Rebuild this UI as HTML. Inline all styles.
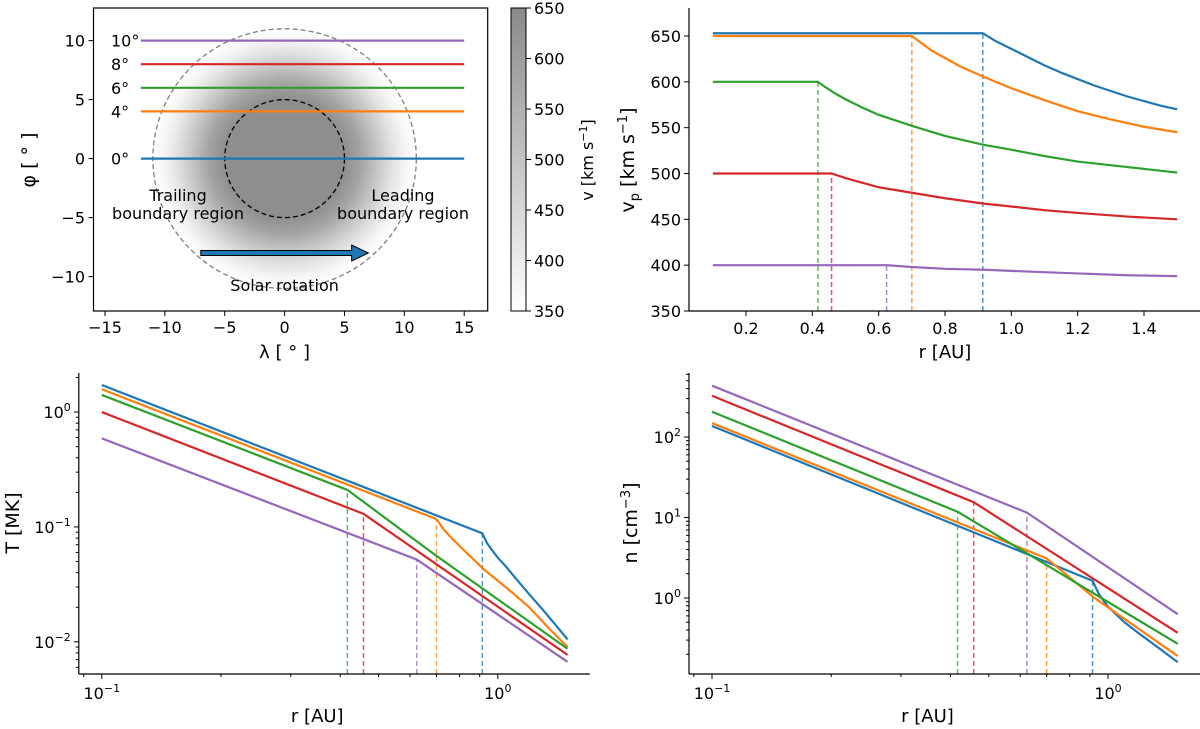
<!DOCTYPE html>
<html><head><meta charset="utf-8"><style>
html,body{margin:0;padding:0;background:#fff;}
svg{display:block;font-family:"DejaVu Sans","Liberation Sans",sans-serif;}
</style></head><body>
<svg id="fig" width="1200" height="729" viewBox="0 0 1200 729" xmlns="http://www.w3.org/2000/svg">
<defs>
<radialGradient id="rg" cx="0.5" cy="0.5" r="0.5">
<stop offset="0" stop-color="#8e8e8e"/><stop offset="0.4545" stop-color="#8e8e8e"/>
<stop offset="0.58" stop-color="#a4a4a4"/><stop offset="0.7" stop-color="#c4c4c4"/>
<stop offset="0.82" stop-color="#e2e2e2"/><stop offset="0.92" stop-color="#f6f6f6"/><stop offset="1" stop-color="#ffffff"/>
</radialGradient>
<linearGradient id="cbg" x1="0" y1="1" x2="0" y2="0"><stop offset="0" stop-color="#ffffff"/><stop offset="1" stop-color="#8a8a8a"/></linearGradient>
</defs>
</svg>
<script>
const seriesNames = ['0deg','4deg','6deg','8deg','10deg'];
const latLabels = ['0','4','6','8','10'];
const latitudes = [0,4,6,8,10];
const colors = ['#1f77b4','#ff7f0e','#2ca02c','#d62728','#9467bd'];
const breakR = [0.914,0.70,0.417,0.458,0.624];
const cbTicks = [350,400,450,500,550,600,650];
const lamTicks = [-15,-10,-5,0,5,10,15];
const phiTicks = [-10,-5,0,5,10];
const rTicks = [0.2,0.4,0.6,0.8,1.0,1.2,1.4];
const vTicks = [350,400,450,500,550,600,650];
// v_p (r, v) per series
const vpR0 = [0.1,0.914,0.95,1.0,1.05,1.1,1.15,1.2,1.25,1.3,1.35,1.4,1.45,1.5];
const vpV0 = [653,653,645,636,627,618,610,603,596,590,584,579,574,570];
const vpR1 = [0.1,0.70,0.73,0.76,0.8,0.85,0.92,1.0,1.1,1.2,1.3,1.4,1.5];
const vpV1 = [650,650,642,634,626,616,605,593,580,568,559,551,545];
const vpR2 = [0.1,0.417,0.44,0.47,0.5,0.55,0.6,0.65,0.7,0.8,0.92,1.0,1.1,1.2,1.35,1.5];
const vpV2 = [600,600,594,587,581,572,564,558,552,541,531,526,519,513,507,501];
const vpR3 = [0.1,0.458,0.5,0.55,0.6,0.65,0.7,0.8,0.92,1.0,1.1,1.2,1.35,1.5];
const vpV3 = [500,500,495,490,485,482,479,473,467,464,460,457,453,450];
const vpR4 = [0.1,0.624,0.7,0.8,0.92,1.05,1.2,1.35,1.5];
const vpV4 = [400,400,398,396,395,393,391,389,388];
// Temperature [MK]
const tR0 = [0.1,0.914,0.94,0.97,1.0,1.05,1.1,1.2,1.3,1.4,1.5];
const tV0 = [1.72,0.088,0.072,0.062,0.054,0.045,0.037,0.026,0.019,0.014,0.0105];
const tR1 = [0.1,0.70,0.73,0.77,0.82,0.92,1.0,1.1,1.2,1.35,1.5];
const tV1 = [1.58,0.117,0.095,0.078,0.063,0.043,0.034,0.026,0.02,0.013,0.009];
const tR2 = [0.1,0.417,0.7,1.5];
const tV2 = [1.41,0.21,0.056,0.0087];
const tR3 = [0.1,0.458,1.5];
const tV3 = [1.0,0.13,0.0077];
const tR4 = [0.1,0.624,1.5];
const tV4 = [0.59,0.052,0.0067];
// Density [cm^-3]
const nR0 = [0.1,0.914,0.95,1.0,1.1,1.2,1.5];
const nV0 = [137,1.64,1.1,0.78,0.5,0.36,0.16];
const nR1 = [0.1,0.70,0.92,1.5];
const nV1 = [149,3.1,1.02,0.19];
const nR2 = [0.1,0.417,1.5];
const nV2 = [206,11.8,0.27];
const nR3 = [0.1,0.458,1.5];
const nV3 = [325,15.5,0.37];
const nR4 = [0.1,0.624,1.5];
const nV4 = [434,11.5,0.63];
const logXTicks = [-1,0];
const tYTicks = [-2,-1,0];
const nYTicks = [0,1,2];

const NS='http://www.w3.org/2000/svg';
const svg=document.getElementById('fig');
function mk(tag,attrs,parent){const e=document.createElementNS(NS,tag);for(const k in attrs)e.setAttribute(k,attrs[k]);(parent||svg).appendChild(e);return e;}
function txt(s,x,y,anchor,size,parent){const t=mk('text',{x:x,y:y,'text-anchor':anchor,'font-size':size,fill:'#000'},parent);t.textContent=s;return t;}
function pow10(x,y,exp,parent){const t=mk('text',{x:x,y:y,'text-anchor':'middle','font-size':16,fill:'#000'},parent);const a=mk('tspan',{},t);a.textContent='10';const b=mk('tspan',{dy:-7,'font-size':11},t);b.textContent=exp;return t;}
const lin=(d0,d1,p0,p1)=>v=>p0+(v-d0)*(p1-p0)/(d1-d0);
const logS=(d0,d1,p0,p1)=>v=>p0+(Math.log10(v)-d0)*(p1-p0)/(d1-d0);

// ---------- Panel A: map ----------
const gA=mk('g',{});


const lx=lin(0,15,284.6,464.2), ly=lin(0,10,158.6,40.6);
mk('rect',{x:93.5,y:8,width:394.2,height:303,fill:'#fff'},gA);
const blob=mk('ellipse',{cx:lx(0),cy:ly(0),rx:lx(11)-lx(0),ry:ly(0)-ly(11),fill:'url(#rg)'},gA);


const oe=mk('ellipse',{cx:lx(0),cy:ly(0),rx:lx(11)-lx(0),ry:ly(0)-ly(11),fill:'none',stroke:'#7f7f7f','stroke-width':1.3,'stroke-dasharray':'5,3'},gA);


const ie=mk('ellipse',{cx:lx(0),cy:ly(0),rx:lx(5)-lx(0),ry:ly(0)-ly(5),fill:'none',stroke:'#000','stroke-width':1.3,'stroke-dasharray':'5,3'},gA);


latitudes.forEach((lat,i)=>{
  const l=mk('line',{x1:lx(-12),x2:lx(15),y1:ly(lat),y2:ly(lat),stroke:colors[i],'stroke-width':2.2},gA);
  
  
  const t=txt(latLabels[i]+'°',lx(-14.5),ly(lat)+6,'start',16,gA);
  
  
});
let t1=txt('Trailing',178,201,'middle',16,gA);
txt('boundary region',178,219,'middle',16,gA);
let t2=txt('Leading',403,201,'middle',16,gA);
txt('boundary region',403,219,'middle',16,gA);
const arr=mk('path',{d:`M${lx(-7)},${ly(-8)-2.5} L${lx(5.6)},${ly(-8)-2.5} L${lx(5.6)},${ly(-8)-8} L${lx(7)},${ly(-8)} L${lx(5.6)},${ly(-8)+8} L${lx(5.6)},${ly(-8)+2.5} L${lx(-7)},${ly(-8)+2.5} Z`,fill:'#1f77b4',stroke:'#000','stroke-width':1},gA);


let t3=txt('Solar rotation',lx(0),291,'middle',16,gA);
mk('rect',{x:93.5,y:8,width:394.2,height:303,fill:'none',stroke:'#000','stroke-width':1.2},gA);
lamTicks.forEach(v=>{mk('line',{x1:lx(v),x2:lx(v),y1:311,y2:316,stroke:'#000'},gA);txt(String(v).replace('-','−'),lx(v),333,'middle',16,gA);});
phiTicks.forEach(v=>{mk('line',{x1:88.5,x2:93.5,y1:ly(v),y2:ly(v),stroke:'#000'},gA);txt(String(v).replace('-','−'),85,ly(v)+6,'end',16,gA);});
let xl=txt('λ [ ° ]',lx(0),358,'middle',18,gA);
let yl=mk('text',{x:0,y:0,'text-anchor':'middle','font-size':19,transform:'translate(35,160) rotate(-90)'},gA);yl.textContent='φ [ ° ]';

// colorbar
const cb=mk('rect',{x:511,y:8,width:15,height:303,fill:'url(#cbg)',stroke:'#000','stroke-width':1},gA);


const cy=lin(350,650,311,8);
cbTicks.forEach(v=>{mk('line',{x1:526,x2:531,y1:cy(v),y2:cy(v),stroke:'#000'},gA);txt(String(v),534,cy(v)+6,'start',16,gA);});
let cl=mk('text',{x:0,y:0,'text-anchor':'middle','font-size':16,transform:'translate(593,160) rotate(-90)'},gA);

cl.innerHTML='v [km s<tspan dy="-6" font-size="11">−1</tspan><tspan dy="6">]</tspan>';

// ---------- Panel B: v_p ----------
const gB=mk('g',{});


const bx=lin(0.2,1.4,746,1144), by=lin(350,650,311,36);
const vpR=[vpR0,vpR1,vpR2,vpR3,vpR4], vpV=[vpV0,vpV1,vpV2,vpV3,vpV4];
vpR.forEach((rs,i)=>{
  const bi=rs.indexOf(breakR[i]);
  const d=mk('line',{x1:bx(breakR[i]),x2:bx(breakR[i]),y1:311,y2:by(vpV[i][bi]),stroke:colors[i],'stroke-opacity':0.75,'stroke-width':1.5,'stroke-dasharray':'5,3'},gB);
  
  
});
vpR.forEach((rs,i)=>{
  const p=mk('polyline',{points:rs.map((r,k)=>bx(r)+','+by(vpV[i][k])).join(' '),fill:'none',stroke:colors[i],'stroke-width':2.2,'stroke-linejoin':'round'},gB);
  
  
});
mk('line',{x1:689,x2:689,y1:8,y2:311,stroke:'#000','stroke-width':1.2},gB);
mk('line',{x1:689,x2:1200,y1:311,y2:311,stroke:'#000','stroke-width':1.2},gB);
rTicks.forEach(v=>{mk('line',{x1:bx(v),x2:bx(v),y1:311,y2:316,stroke:'#000'},gB);txt(v.toFixed(1),bx(v),334,'middle',16,gB);});
vTicks.forEach(v=>{mk('line',{x1:684,x2:689,y1:by(v),y2:by(v),stroke:'#000'},gB);txt(String(v),681,by(v)+6,'end',16,gB);});
let bxl=txt('r [AU]',bx(0.8),358,'middle',18,gB);
let byl=mk('text',{x:0,y:0,'text-anchor':'middle','font-size':19,transform:'translate(634,160) rotate(-90)'},gB);

byl.innerHTML='v<tspan dy="5" font-size="13">p</tspan><tspan dy="-5"> [km s</tspan><tspan dy="-7" font-size="13">−1</tspan><tspan dy="7">]</tspan>';

// ---------- log panels ----------
function logPanel(name,x0,yTop,yBot,yTopVal,yBotVal,Rs,Vs,yTicks,ytitle,ytx){
  const g=mk('g',{});
  
  
  const sx=logS(-1,0,x0+23,x0+419), sy=logS(yBotVal,yTopVal,yBot,yTop);
  Rs.forEach((rs,i)=>{
    const bi=rs.indexOf(breakR[i]);
    if(bi<0)return;
    const d=mk('line',{x1:sx(breakR[i]),x2:sx(breakR[i]),y1:674,y2:sy(Vs[i][bi]),stroke:colors[i],'stroke-opacity':0.75,'stroke-width':1.5,'stroke-dasharray':'5,3'},g);
    
    
  });
  Rs.forEach((rs,i)=>{
    const p=mk('polyline',{points:rs.map((r,k)=>sx(r)+','+sy(Vs[i][k])).join(' '),fill:'none',stroke:colors[i],'stroke-width':2.2,'stroke-linejoin':'round'},g);
    
    
  });
  mk('line',{x1:x0,x2:x0,y1:373,y2:674,stroke:'#000','stroke-width':1.2},g);
  mk('line',{x1:x0,x2:x0+511,y1:674,y2:674,stroke:'#000','stroke-width':1.2},g);
  for(let dec=-2;dec<=0;dec++)for(let m=1;m<10;m++){const v=m*Math.pow(10,dec);const px=sx(v);if(px<x0||px>x0+511)continue;const major=(m===1);mk('line',{x1:px,x2:px,y1:674,y2:674+(major?5:3),stroke:'#000'},g);}
  logXTicks.forEach(e=>pow10(sx(Math.pow(10,e)),699,e===0?'0':'−1',g));
  for(let dec=-3;dec<=3;dec++)for(let m=1;m<10;m++){const v=m*Math.pow(10,dec);const py=sy(v);if(py<373||py>674)continue;mk('line',{x1:x0-(m===1?5:3),x2:x0,y1:py,y2:py,stroke:'#000'},g);}
  yTicks.forEach(e=>{const t=mk('text',{x:x0-8,y:sy(Math.pow(10,e))+6,'text-anchor':'end','font-size':16},g);t.innerHTML='10<tspan dy="-7" font-size="11">'+(e<0?'−'+(-e):e)+'</tspan>';});
  let xt=txt('r [AU]',sx(0.35),722,'middle',18,g);
  let yt=mk('text',{x:0,y:0,'text-anchor':'middle','font-size':19,transform:`translate(${ytx},523) rotate(-90)`},g);
  
  yt.innerHTML=ytitle;
}
logPanel('temperature-panel',78.8,373,674,0.34,-2.28,[tR0,tR1,tR2,tR3,tR4],[tV0,tV1,tV2,tV3,tV4],tYTicks,'T [MK]',19);
logPanel('density-panel',689,373,674,2.795,-0.944,[nR0,nR1,nR2,nR3,nR4],[nV0,nV1,nV2,nV3,nV4],nYTicks,'n [cm<tspan dy="-7" font-size="13">−3</tspan><tspan dy="7">]</tspan>',637);
</script>
</body></html>
